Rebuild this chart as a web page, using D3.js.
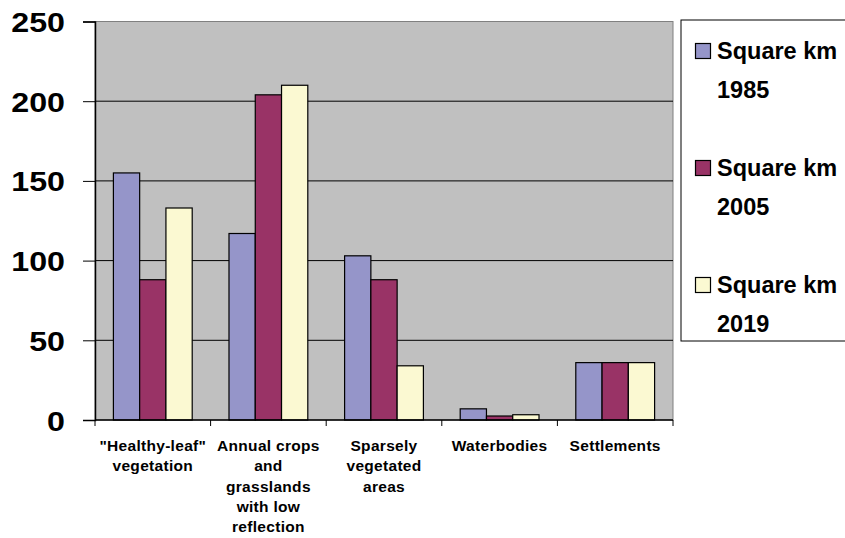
<!DOCTYPE html>
<html lang="en">
<head>
    <meta charset="UTF-8">
    <title>Land cover change</title>
    <script src="https://cdnjs.cloudflare.com/ajax/libs/d3/7.8.5/d3.min.js"></script>
    <style>
        body { margin: 0; background: #fff; }
        svg { display: block; font-family: "Liberation Sans", Arial, sans-serif; font-weight: bold; }
    </style>
</head>
<body>
<svg width="845" height="538"></svg>

<script>
    // Data
    const categories = [
        ["\"Healthy-leaf\"", "vegetation"],
        ["Annual crops", "and", "grasslands", "with low", "reflection"],
        ["Sparsely", "vegetated", "areas"],
        ["Waterbodies"],
        ["Settlements"]
    ];
    const seriesNames = ["Square km 1985", "Square km 2005", "Square km 2019"];
    const values1985 = [155, 117, 103, 7, 36];
    const values2005 = [88, 204, 88, 2.5, 36];
    const values2019 = [133, 210, 34, 3.3, 36];
    const yTicks = [0, 50, 100, 150, 200, 250];

    const seriesValues = [values1985, values2005, values2019];
    const colors = ["#9595C9", "#993366", "#FBF9D2"];

    const svg = d3.select("svg");
    const plot = { left: 95, right: 673, top: 21.5, bottom: 420 };

    const x = d3.scaleBand()
        .domain(d3.range(categories.length))
        .range([plot.left, plot.right])
        .padding(0);

    const xInner = d3.scaleBand()
        .domain(d3.range(seriesNames.length))
        .range([0, x.bandwidth()])
        .paddingOuter(0.5 * 36 / 25.7)
        .paddingInner(0);

    const y = d3.scaleLinear()
        .domain([0, 250])
        .range([plot.bottom, plot.top]);

    // plot background
    svg.append("rect")
        .attr("x", plot.left)
        .attr("y", plot.top)
        .attr("width", plot.right - plot.left)
        .attr("height", plot.bottom - plot.top)
        .attr("fill", "#C0C0C0")
        .attr("stroke", "#808080")
        .attr("stroke-width", 1);

    // gridlines
    svg.append("g")
        .selectAll("line")
        .data(yTicks.filter(d => d > 0 && d < 250))
        .enter()
        .append("line")
        .attr("x1", plot.left)
        .attr("x2", plot.right)
        .attr("y1", d => y(d))
        .attr("y2", d => y(d))
        .attr("stroke", "black")
        .attr("stroke-width", 1);

    // bars
    const groups = svg.append("g")
        .selectAll("g")
        .data(seriesNames)
        .enter()
        .append("g")
        .attr("fill", (d, i) => colors[i]);

    groups.selectAll("rect")
        .data((d, i) => seriesValues[i].map((v, j) => ({ s: i, c: j, v: v })))
        .enter()
        .append("rect")
        .attr("x", d => x(d.c) + xInner(d.s))
        .attr("y", d => y(d.v))
        .attr("width", xInner.bandwidth())
        .attr("height", d => y(0) - y(d.v))
        .attr("stroke", "black")
        .attr("stroke-width", 1.2);

    // y axis
    const yAxis = d3.axisLeft(y)
        .tickValues(yTicks)
        .tickSize(12)
        .tickPadding(18);

    svg.append("g")
        .attr("transform", `translate(${plot.left},0)`)
        .call(yAxis)
        .call(g => g.select(".domain").attr("stroke", "black").attr("stroke-width", 1.5))
        .call(g => g.selectAll(".tick line").attr("stroke", "black"))
        .call(g => g.selectAll(".tick text")
            .attr("font-size", 28)
            .attr("font-family", "Liberation Sans, Arial, sans-serif")
            .attr("font-weight", "bold")
            .attr("fill", "black")
            .attr("dy", "0.36em")
            .each(function () {
                // the reference digits are a bit wider than Arial
                const w = this.getComputedTextLength();
                d3.select(this)
                    .attr("textLength", w * 1.15)
                    .attr("lengthAdjust", "spacingAndGlyphs");
            }));

    // x axis line + ticks at category boundaries
    const xAxisG = svg.append("g");
    xAxisG.append("line")
        .attr("x1", plot.left)
        .attr("x2", plot.right)
        .attr("y1", plot.bottom)
        .attr("y2", plot.bottom)
        .attr("stroke", "black")
        .attr("stroke-width", 1.5);

    xAxisG.selectAll("line.tk")
        .data(d3.range(categories.length + 1))
        .enter()
        .append("line")
        .attr("class", "tk")
        .attr("x1", d => plot.left + d * x.step())
        .attr("x2", d => plot.left + d * x.step())
        .attr("y1", plot.bottom)
        .attr("y2", plot.bottom + 6)
        .attr("stroke", "black");

    // category labels
    const labels = svg.append("g")
        .selectAll("text")
        .data(categories)
        .enter()
        .append("text")
        .attr("text-anchor", "middle")
        .attr("font-size", 15.5)
        .attr("letter-spacing", 0.3)
        .attr("fill", "black")
        .attr("x", (d, i) => x(i) + x.bandwidth() / 2)
        .attr("y", 451);

    labels.selectAll("tspan")
        .data(d => d)
        .enter()
        .append("tspan")
        .attr("x", function () { return d3.select(this.parentNode).attr("x"); })
        .attr("dy", (d, i) => i === 0 ? 0 : 20.3)
        .text(d => d);

    // legend
    const legend = svg.append("g");
    legend.append("rect")
        .attr("x", 681)
        .attr("y", 20)
        .attr("width", 200)
        .attr("height", 321)
        .attr("fill", "white")
        .attr("stroke", "black")
        .attr("stroke-width", 1);

    const items = legend.selectAll("g.item")
        .data(seriesNames)
        .enter()
        .append("g")
        .attr("class", "item")
        .attr("transform", (d, i) => `translate(0, ${i * 117})`);

    items.append("rect")
        .attr("x", 695.5)
        .attr("y", 43.5)
        .attr("width", 15)
        .attr("height", 15)
        .attr("fill", (d, i) => colors[i])
        .attr("stroke", "black")
        .attr("stroke-width", 1.2);

    items.append("text")
        .attr("x", 717)
        .attr("y", 59)
        .attr("font-size", 23.5)
        .attr("fill", "black")
        .text(d => d.split(" ").slice(0, 2).join(" "));

    items.append("text")
        .attr("x", 717)
        .attr("y", 98)
        .attr("font-size", 23.5)
        .attr("fill", "black")
        .text(d => d.split(" ")[2]);
</script>
</body>
</html>
